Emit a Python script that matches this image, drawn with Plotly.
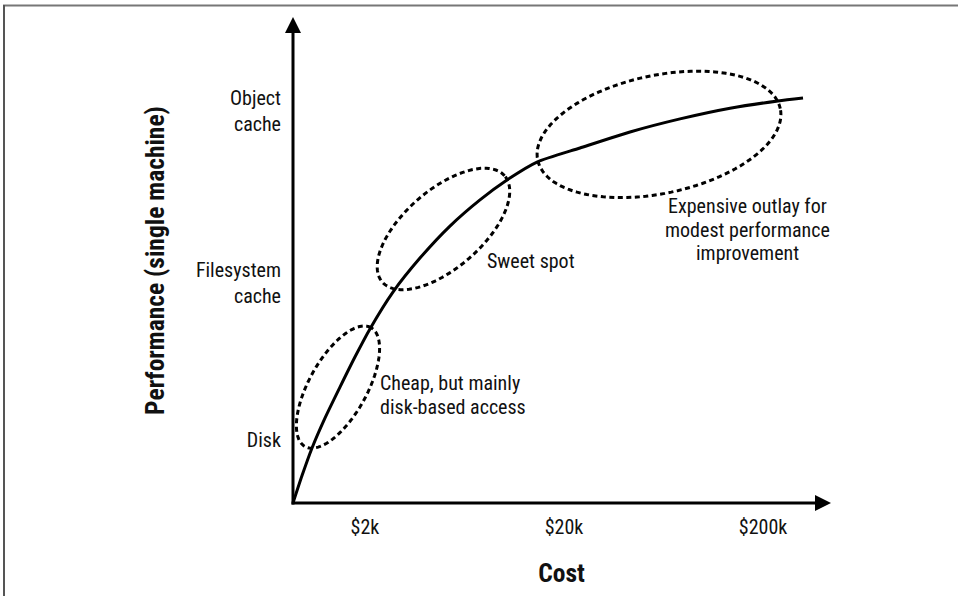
import math
import plotly.graph_objects as go

# ---- data -------------------------------------------------------------
# cost (USD) vs. relative single-machine performance
cost = [870, 965, 1083, 1259, 1498, 1781, 2119, 2765, 3779, 5347,
        7568, 10342, 14632, 24070, 42920, 76570, 136600, 237900, 317600]
performance = [0, 5.6, 11.3, 17.5, 23.9, 30.1, 35.9, 43.5, 50.5, 57.1,
               62.5, 66.6, 70.3, 73.2, 76.5, 79.2, 81.4, 82.9, 83.5]

cost_ticks = [2000, 20000, 200000]
cost_labels = ["$2k", "$20k", "$200k"]

perf_ticks = [12.9, 45.4, 80.8]
perf_labels = ["Disk", "Filesystem<br>cache", "Object<br>cache"]

# highlighted regions: centre (cost, performance)
region_cost = [1464, 4960, 60030]
region_perf = [23.9, 56.5, 76.0]

# callout texts (one entry per line) and their anchors (cost, performance)
note_lines = [
    ["Cheap, but mainly", "disk-based access"],
    ["Sweet spot"],
    ["Expensive outlay for", "modest performance", "improvement"],
]
note_cost = [2324, 8018, 166200]
note_perf = [22.3, 49.9, 56.3]

# ---- styling / layout constants --------------------------------------
W, H = 958, 596
ML, MR, MT, MB = 293, 128, 18, 93
PW, PH = W - ML - MR, H - MT - MB
FONT = "Roboto Condensed, Archivo Narrow, DejaVu Sans Condensed, sans-serif"
INK = "#111111"
TEXT_SIZE = 20
LINE_GAP = 23.5

# ellipse sizes in screen pixels: semi-major, semi-minor, tilt (deg)
region_shape = [(68, 29, 61), (81, 39, 41), (124, 59, 12)]
note_align = ["left", "left", "center"]


def px(xp):
    return (xp - ML) / PW


def py(yp):
    return (H - MB - yp) / PH


def ellipse_path(a, b, deg, n=120):
    th = math.radians(deg)
    pts = []
    for i in range(n):
        t = 2 * math.pi * i / n
        x = a * math.cos(t) * math.cos(th) - b * math.sin(t) * math.sin(th)
        y = a * math.cos(t) * math.sin(th) + b * math.sin(t) * math.cos(th)
        pts.append(f"{x:.2f},{y:.2f}")
    return "M" + " L".join(pts) + " Z"


fig = go.Figure()
fig.add_trace(go.Scatter(
    x=cost, y=performance, mode="lines",
    line=dict(color="black", width=3, shape="spline", smoothing=0.6),
    hoverinfo="skip", showlegend=False, cliponaxis=False,
))

shapes = []
# dashed ellipses around regions of the curve
for cx, cy, (a, b, deg) in zip(region_cost, region_perf, region_shape):
    shapes.append(dict(
        type="path", xref="x", yref="y",
        xsizemode="pixel", ysizemode="pixel",
        xanchor=cx, yanchor=cy,
        path=ellipse_path(a, b, deg),
        line=dict(color="black", width=3, dash="5px,3.5px"),
        fillcolor="rgba(0,0,0,0)", layer="above",
    ))

# axes with arrowheads
shapes += [
    dict(type="line", xref="paper", yref="paper",
         x0=px(293), y0=py(504.5), x1=px(293), y1=py(30),
         line=dict(color="black", width=3)),
    dict(type="path", xref="paper", yref="paper",
         path=f"M{px(293)},{py(17)} L{px(285)},{py(33)} L{px(301)},{py(33)} Z",
         fillcolor="black", line=dict(width=0)),
    dict(type="line", xref="paper", yref="paper",
         x0=px(291.5), y0=py(503), x1=px(818), y1=py(503),
         line=dict(color="black", width=3)),
    dict(type="path", xref="paper", yref="paper",
         path=f"M{px(831)},{py(503)} L{px(815)},{py(495)} L{px(815)},{py(511)} Z",
         fillcolor="black", line=dict(width=0)),
]

# frame lines along the top and left edges
shapes += [
    dict(type="line", xref="paper", yref="paper",
         x0=px(3), y0=py(5.5), x1=px(W), y1=py(5.5),
         line=dict(color="#777777", width=2)),
    dict(type="line", xref="paper", yref="paper",
         x0=px(4), y0=py(5), x1=px(4), y1=py(H),
         line=dict(color="#555555", width=2)),
]

annotations = []
for lines, cx, cy, al in zip(note_lines, note_cost, note_perf, note_align):
    n = len(lines)
    for i, txt in enumerate(lines):
        annotations.append(dict(
            x=math.log10(cx), y=cy, xref="x", yref="y",
            text=txt, showarrow=False, align=al,
            xanchor="left" if al == "left" else "center",
            yanchor="middle",
            yshift=((n - 1) / 2 - i) * LINE_GAP,
            font=dict(family=FONT, size=TEXT_SIZE, color=INK),
        ))

fig.update_layout(
    width=W, height=H, autosize=False,
    margin=dict(l=ML, r=MR, t=MT, b=MB, pad=0),
    paper_bgcolor="white", plot_bgcolor="white",
    shapes=shapes, annotations=annotations,
    showlegend=False,
    xaxis=dict(
        type="log", range=[math.log10(870), math.log10(434000)],
        showgrid=False, zeroline=False, showline=False,
        tickvals=cost_ticks, ticktext=cost_labels, ticks="",
        ticklabelstandoff=10,
        tickfont=dict(family=FONT, size=TEXT_SIZE, color=INK),
        title=dict(text="Cost", standoff=26,
                   font=dict(family=FONT, size=25.5, color=INK, weight="bold")),
        fixedrange=True,
    ),
    yaxis=dict(
        range=[0, 100],
        showgrid=False, zeroline=False, showline=False,
        tickvals=perf_ticks, ticktext=perf_labels, ticks="",
        ticklabelstandoff=11,
        tickfont=dict(family=FONT, size=TEXT_SIZE, color=INK),
        title=dict(text="Performance (single machine)", standoff=23,
                   font=dict(family=FONT, size=25.5, color=INK, weight="bold")),
        fixedrange=True,
    ),
)

fig.write_html("out.html")
